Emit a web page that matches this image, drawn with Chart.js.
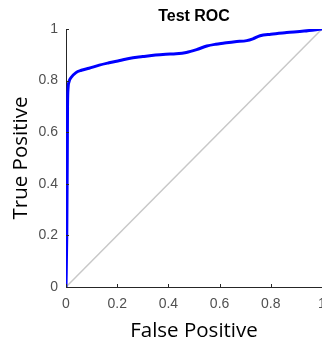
<!DOCTYPE html>
<html>
<head>
<meta charset="utf-8">
<script src="https://cdn.jsdelivr.net/npm/chart.js@4/dist/chart.umd.min.js"></script>
<style>
  html, body { margin: 0; padding: 0; background: #fff; }
  #wrap { width: 322px; height: 343px; }
</style>
</head>
<body>
<div id="wrap"><canvas id="roc"></canvas></div>
<script>
// ROC curve (false positive rate -> true positive rate)
const fpr = [0, 0.003, 0.005, 0.006, 0.008, 0.012, 0.02, 0.039, 0.06, 0.09, 0.13, 0.168, 0.21, 0.246, 0.3, 0.35, 0.39, 0.43, 0.47, 0.51, 0.55, 0.585, 0.614, 0.66, 0.706, 0.73, 0.758, 0.8, 0.862, 0.93, 1]
const tpr = [0, 0.2, 0.5, 0.7, 0.77, 0.796, 0.812, 0.831, 0.84, 0.848, 0.86, 0.869, 0.878, 0.886, 0.893, 0.899, 0.902, 0.904, 0.909, 0.92, 0.934, 0.941, 0.945, 0.951, 0.955, 0.962, 0.974, 0.98, 0.986, 0.992, 1]

// chance line
const diagX = [0, 1]
const diagY = [0, 1]

const tickValues = [0, 0.2, 0.4, 0.6, 0.8, 1]

const AXIS = '#262626'
const TICK_TEXT = '#505050'

// MATLAB style inward tick marks
const inwardTicks = {
    id: 'inwardTicks',
    afterDatasetsDraw(chart) {
        const { ctx, chartArea, scales } = chart
        ctx.save()
        ctx.strokeStyle = AXIS
        ctx.lineWidth = 1
        ctx.beginPath()
        scales.x.ticks.forEach(t => {
            const px = Math.round(scales.x.getPixelForValue(t.value)) + 0.5
            ctx.moveTo(px, chartArea.bottom)
            ctx.lineTo(px, chartArea.bottom - 3)
        })
        scales.y.ticks.forEach(t => {
            const py = Math.round(scales.y.getPixelForValue(t.value)) + 0.5
            ctx.moveTo(chartArea.left, py)
            ctx.lineTo(chartArea.left + 3, py)
        })
        ctx.stroke()
        ctx.restore()
    },
}

new Chart(document.getElementById('roc'), {
    type: 'line',
    data: {
        datasets: [
            {
                data: fpr.map((x, i) => ({ x, y: tpr[i] })),
                borderColor: '#0000ff',
                borderWidth: 3,
                pointRadius: 0,
                cubicInterpolationMode: 'monotone',
            },
            {
                data: diagX.map((x, i) => ({ x, y: diagY[i] })),
                borderColor: '#c8c8c8',
                borderWidth: 1.5,
                pointRadius: 0,
            },
        ],
    },
    options: {
        responsive: true,
        maintainAspectRatio: false,
        animation: false,
        layout: { padding: 0 },
        plugins: {
            legend: { display: false },
            tooltip: { enabled: false },
            title: {
                display: true,
                text: 'Test ROC',
                fullSize: false,
                color: '#000',
                font: { family: "'Liberation Sans', Arial, sans-serif", size: 16, weight: 'bold' },
                padding: { top: 7, bottom: 2.8 },
            },
        },
        scales: {
            x: {
                type: 'linear',
                min: 0,
                max: 1,
                afterBuildTicks: (s) => { s.ticks = tickValues.map(v => ({ value: v })) },
                afterFit: (s) => { s.height = 56; s.paddingLeft = 0; s.paddingRight = 0 },
                grid: { display: false, drawTicks: false },
                border: { display: true, color: AXIS, width: 1 },
                ticks: {
                    color: TICK_TEXT,
                    padding: 9,
                    maxRotation: 0,
                    font: { family: "'Liberation Sans', Arial, sans-serif", size: 14 },
                    callback: (v) => String(v),
                },
                title: {
                    display: true,
                    text: 'False Positive',
                    color: '#000',
                    font: { family: "'Open Sans', sans-serif", size: 20.5 },
                    padding: { top: 0, bottom: 0 },
                },
            },
            y: {
                type: 'linear',
                min: 0,
                max: 1,
                afterBuildTicks: (s) => { s.ticks = tickValues.map(v => ({ value: v })) },
                afterFit: (s) => { s.width = 66; s.paddingTop = 0; s.paddingBottom = 0 },
                grid: { display: false, drawTicks: false },
                border: { display: true, color: AXIS, width: 1 },
                ticks: {
                    color: TICK_TEXT,
                    padding: 8,
                    font: { family: "'Liberation Sans', Arial, sans-serif", size: 14 },
                    callback: (v) => String(v),
                },
                title: {
                    display: true,
                    text: 'True Positive',
                    color: '#000',
                    font: { family: "'Open Sans', sans-serif", size: 20.5 },
                    padding: { top: 9, bottom: 0 },
                },
            },
        },
    },
    plugins: [inwardTicks],
})
</script>
</body>
</html>
